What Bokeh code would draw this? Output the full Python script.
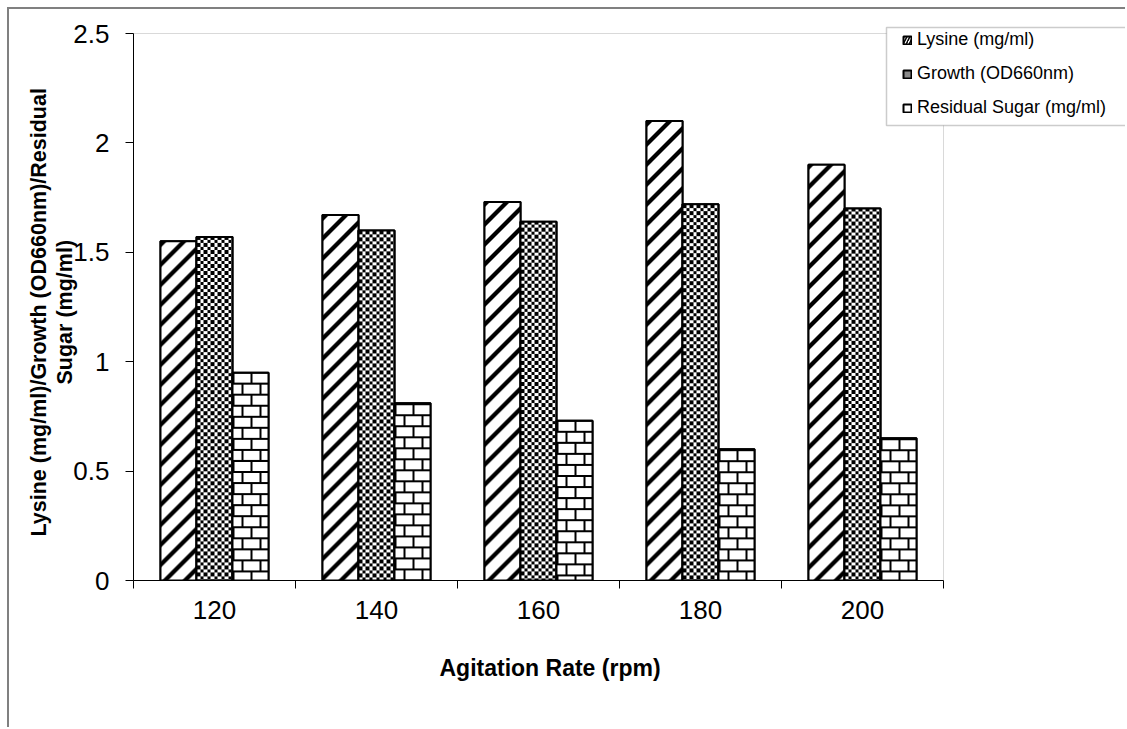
import numpy as np
from bokeh.plotting import figure
from bokeh.models import (ColumnDataSource, FixedTicker, Legend, LegendItem,
                          BoxAnnotation, Range1d, Title)
from bokeh.embed import file_html
from bokeh.resources import INLINE

# Data: agitation rate (rpm) and measured responses
rates = ["120", "140", "160", "180", "200"]
lysine = [1.55, 1.67, 1.73, 2.10, 1.90]
growth = [1.57, 1.60, 1.64, 1.72, 1.70]
residual_sugar = [0.95, 0.81, 0.73, 0.60, 0.65]
y_ticks = [0, 0.5, 1, 1.5, 2, 2.5]
series_names = ["Lysine (mg/ml)", "Growth (OD660nm)", "Residual Sugar (mg/ml)"]
x_title = "Agitation Rate (rpm)"
y_title = ["Lysine (mg/ml)/Growth (OD660nm)/Residual", "Sugar (mg/ml)"]

FONT = "Liberation Sans"
Y_MAX = 2.5

# canvas geometry (pixels)
CANVAS_W, CANVAS_H = 1118, 720
LEFT, TOP, BOTTOM = 124, 11, 149
PX_PER_CAT = 162                     # horizontal pixels per category
PX_PER_UNIT = 547 / Y_MAX            # vertical pixels per y unit
BAR_PX = 36
frame_w = CANVAS_W - LEFT
frame_h = CANVAS_H - TOP - BOTTOM

centers = np.arange(len(rates)) + 0.5
bar_w = BAR_PX / PX_PER_CAT
offsets = [-bar_w, 0.0, bar_w]


def pattern_image(kind, value):
    """RGBA fill texture for one bar, one image pixel per screen pixel."""
    h = max(int(round(value * PX_PER_UNIT)), 1)
    yy, xx = np.mgrid[0:h, 0:BAR_PX]
    yy = yy[::-1]  # count rows from the bar top
    if kind == "stripes":
        ink = ((xx + yy) % 20) < 6
    elif kind == "checker":
        ink = ((xx * 2 // 7) + (yy * 2 // 7)) % 2 == 0
    else:  # bricks
        row = yy // 11
        ink = (yy % 11 < 2) | (((xx + (row % 2) * 9) % 18) < 2)
    rgba = np.zeros((h, BAR_PX, 4), dtype=np.uint8)
    rgba[..., :3] = np.where(ink, 0, 255)[..., None]
    rgba[..., 3] = 255
    return rgba.view(np.uint32).reshape(h, BAR_PX)


p = figure(width=CANVAS_W, height=CANVAS_H,
           x_range=Range1d(0, frame_w / PX_PER_CAT),
           y_range=Range1d(0, frame_h / PX_PER_UNIT),
           output_backend="svg", toolbar_location=None,
           min_border_left=LEFT, min_border_right=0,
           min_border_top=TOP, min_border_bottom=BOTTOM)
p.outline_line_color = None
p.xgrid.visible = False
p.ygrid.visible = False
p.background_fill_color = "white"
p.border_fill_color = "white"
p.styles = {"margin-left": "7px", "margin-top": "7px",
            "border-top": "2px solid #808080",
            "border-left": "2px solid #808080"}

# plot-area border (top and right edges; the axes cover the others)
p.add_layout(BoxAnnotation(left=0, right=len(rates), bottom=0, top=Y_MAX,
                           fill_alpha=0, line_color="#808080", line_width=1,
                           level="underlay"))

# each series: base bars (also the legend swatch), texture, outline
series = [("stripes", lysine, dict(fill_color="white", hatch_pattern="/",
                                   hatch_scale=6, hatch_weight=1.5,
                                   hatch_color="black")),
          ("checker", growth, dict(fill_color="#8a8a8a")),
          ("bricks", residual_sugar, dict(fill_color="white"))]
swatches = []
for off, (kind, vals, look) in zip(offsets, series):
    xs = list(centers + off)
    base = p.vbar(x=xs, top=list(vals), width=bar_w, bottom=0,
                  line_color="black", line_width=2, **look)
    swatches.append(base)
    src = ColumnDataSource(dict(
        image=[pattern_image(kind, v) for v in vals],
        x=[x - bar_w / 2 for x in xs], y=[0] * len(vals),
        dw=[bar_w] * len(vals), dh=list(vals)))
    p.image_rgba(image="image", x="x", y="y", dw="dw", dh="dh", source=src)
    p.vbar(x=xs, top=list(vals), width=bar_w, bottom=0,
           fill_alpha=0, line_color="black", line_width=2)

# Axes
xa = p.xaxis[0]
xa.bounds = (0, len(rates))
xa.ticker = FixedTicker(ticks=list(centers), minor_ticks=list(range(len(rates) + 1)))
xa.major_label_overrides = {float(c): r for c, r in zip(centers, rates)}
xa.major_tick_out = 0
xa.major_tick_in = 0
xa.minor_tick_out = 8
xa.minor_tick_in = 0
xa.major_label_standoff = 12

ya = p.yaxis[0]
ya.bounds = (0, Y_MAX)
ya.ticker = FixedTicker(ticks=y_ticks, minor_ticks=[])
ya.major_label_overrides = {t: f"{t:g}" for t in y_ticks}
ya.major_tick_out = 8
ya.major_tick_in = 0
ya.minor_tick_out = 0
ya.minor_tick_in = 0
ya.major_label_standoff = 16

for ax in (xa, ya):
    ax.axis_line_color = "black"
    ax.axis_line_width = 1
    ax.major_tick_line_color = "black"
    ax.minor_tick_line_color = "black"
    ax.major_label_text_font = FONT
    ax.major_label_text_font_size = "26px"
    ax.major_label_text_color = "black"

title_style = dict(text_font=FONT, text_font_style="bold", text_color="black")
p.add_layout(Title(text=x_title, align="left", offset=306,
                   vertical_align="top", standoff=66, text_font_size="23px",
                   **title_style), "below")
# y title: second line sits next to the axis, first line outside it
p.add_layout(Title(text=y_title[1], align="left", offset=196,
                   vertical_align="bottom", standoff=-12,
                   text_font_size="21.5px", **title_style), "left")
p.add_layout(Title(text=y_title[0], align="left", offset=44,
                   vertical_align="bottom", standoff=12,
                   text_font_size="21.5px", **title_style), "left")

# Legend
p.add_layout(BoxAnnotation(left=875, right=1130, top=16, bottom=114,
                           left_units="canvas", right_units="canvas",
                           top_units="canvas", bottom_units="canvas",
                           fill_color="white", fill_alpha=1,
                           line_color="#555555", line_width=1.5,
                           level="guide"))
legend = Legend(items=[LegendItem(label=n, renderers=[r])
                       for n, r in zip(series_names, swatches)],
                location=(769, 462), orientation="vertical",
                glyph_width=10, glyph_height=10, label_standoff=5,
                label_height=20, spacing=13, padding=0, margin=0,
                label_text_font=FONT, label_text_font_size="18px",
                label_text_color="black",
                border_line_alpha=0, background_fill_alpha=0)
p.add_layout(legend)

open("out.html", "w").write(file_html(p, INLINE))
